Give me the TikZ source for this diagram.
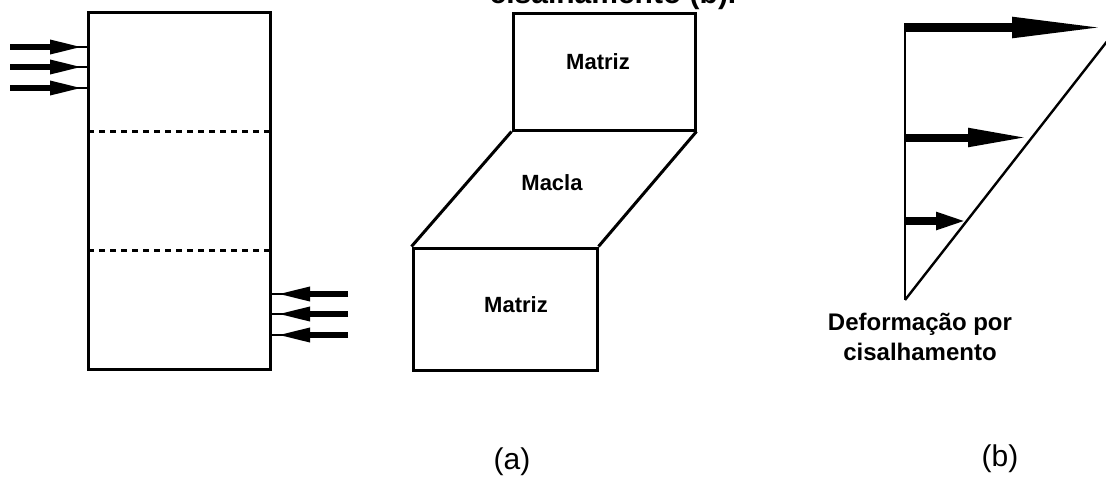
\documentclass[tikz,border=0pt]{standalone}
\usepackage{fontspec}
\setmainfont{Liberation Sans}
\usetikzlibrary{arrows.meta}
\begin{document}
\begin{tikzpicture}[x=1pt,y=-1pt,
  box/.style={draw,line width=3pt,inner sep=0pt},
  lbl/.style={font=\bfseries\fontsize{22}{26}\selectfont},
  cut/.style={line width=3pt,dash pattern=on 6pt off 5pt},
  push/.style={line width=6pt,-{Triangle[length=34pt,width=13pt]}},
  thin/.style={line width=1.2pt},
  caption/.style={font=\fontsize{30}{36}\selectfont}]
\useasboundingbox (0,0) rectangle (1106,480);

% (a) specimen under shear
\node[box,minimum width=182pt,minimum height=357pt] (spec) at (179,191) {};
\coordinate (c1) at (88,131.5);  \coordinate (c1e) at (270,131.5);
\coordinate (c2) at (88,250);    \coordinate (c2e) at (270,250);
\draw[cut] (c1) -- (c1e);
\draw[cut] (c2) -- (c2e);

\foreach \y [count=\i] in {47,67,88}{
  \coordinate (la\i) at (10,\y);
  \coordinate (lb\i) at (88,\y);
  \draw[thin] (la\i) -- (lb\i);
  \draw[push] (la\i) -- (84,\y);
}
\foreach \y [count=\i] in {294,314,335}{
  \coordinate (ra\i) at (348,\y);
  \coordinate (rb\i) at (272,\y);
  \draw[thin] (ra\i) -- (rb\i);
  \draw[push] (ra\i) -- (276,\y);
}

% twin between two matrix blocks
\node[box,minimum width=182pt,minimum height=117pt] (top) at (604,71.5) {};
\node[lbl] at (598,62) {Matriz};
\node[box,minimum width=184pt,minimum height=122pt] (bot) at (505,309) {};
\node[lbl] at (516,305) {Matriz};
\draw[line width=3pt,line join=miter] (top.south west) -- (bot.north west);
\draw[line width=3pt,line join=miter] (top.south east) -- (bot.north east);
\node[lbl] at (552,183) {Macla};

% (b) shear displacement profile
\coordinate (o) at (905,300);
\coordinate (vt) at (905,23);
\coordinate (dg) at (1112,35);
\draw[line width=2.8pt] (vt) -- (o);
\draw[line width=2.4pt] (o) -- (dg);
\draw[line width=8.5pt,-{Triangle[length=94pt,width=19pt]}] (905,27.5) -- (1106,27.5);
\draw[line width=8pt,-{Triangle[length=62pt,width=17pt]}] (905,137.5) -- (1030,137.5);
\draw[line width=7.5pt,-{Triangle[length=31pt,width=16pt]}] (905,221) -- (967,221);

\node[align=center,font=\bfseries\fontsize{24}{30}\selectfont] (def) at (920,337)
  {Deformação por\\cisalhamento};

% titles and captions
\node[anchor=base,font=\bfseries\fontsize{30}{36}\selectfont] (ttl) at (613,3) {cisalhamento (b).};
\node[caption] (capa) at (512,462) {(a)};
\node[caption] (capb) at (1000,459) {(b)};
\end{tikzpicture}
\end{document}
